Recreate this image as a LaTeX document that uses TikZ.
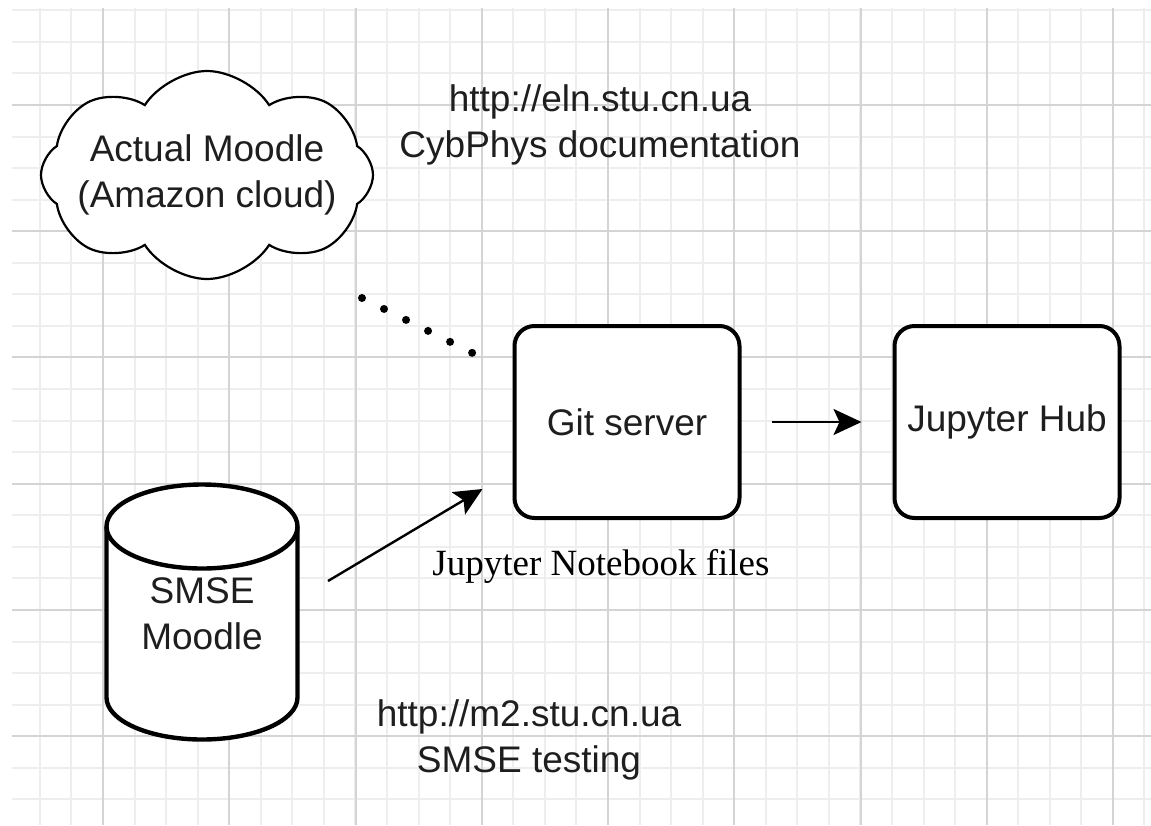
\documentclass[tikz,border=0pt]{standalone}
\usepackage{fontspec}
\setmainfont{Liberation Serif}
\setsansfont{Liberation Sans}
\usetikzlibrary{shapes.symbols,arrows.meta}

\definecolor{gridmajor}{HTML}{D4D4D4}
\definecolor{gridminor}{HTML}{EEEEEE}
\definecolor{ink}{HTML}{1E1E1E}

\tikzset{
  minorline/.style={gridminor, line width=1pt},
  majorline/.style={gridmajor, line width=1pt},
  box/.style={draw=black, fill=white, line width=2pt, rounded corners=10pt,
    minimum width=112.5pt, minimum height=96pt, text=ink},
  cloudnode/.style={cloud, draw=black, fill=white, line width=1.1pt, cloud puffs=8,
    cloud puff arc=115, aspect=1.6, minimum width=166pt, minimum height=104pt,
    inner sep=0pt},
  dbline/.style={draw=black, fill=white, line width=2.2pt, line join=round},
  dbcap/.style={x radius=47.75pt, y radius=21pt},
  note/.style={align=center, text=ink},
  flow/.style={-{Stealth[length=14pt,width=13pt,inset=3pt]}, line width=1.2pt},
  dotline/.style={line width=4pt, line cap=round, dash pattern=on 0pt off 12.3pt}
}

\begin{document}
\begin{tikzpicture}[x=0.5pt,y=-0.5pt,font=\sffamily\fontsize{18.5}{23}\selectfont]
   \useasboundingbox (0,0) rectangle (1151,825);
   \fill[white] (0,0) rectangle (1151,825);
   % grid
   \foreach \k in {-2,...,33} \draw[minorline] ({103+31.56*\k},8) -- ({103+31.56*\k},825);
   \foreach \k in {-3,...,22} \draw[minorline] (12,{105+31.56*\k}) -- (1151,{105+31.56*\k});
   \foreach \k in {0,...,8} \draw[majorline] ({103+126.25*\k},8) -- ({103+126.25*\k},825);
   \foreach \k in {0,...,5} \draw[majorline] (12,{105+126.2*\k}) -- (1151,{105+126.2*\k});

   \node[cloudnode, label={[note]center:{Actual Moodle\\(Amazon cloud)}}] (cloud) at (207,175) {};
   \node[note] (elnurl) at (600,125) {http://eln.stu.cn.ua\\CybPhys documentation};
   \node[box] (git) at (627,422) {Git server};
   \node[box] (hub) at (1007,422) {Jupyter Hub};

   % database cylinder
   \coordinate (smse) at (202,612);
   \path[dbline] ([shift={(-95.5,-85.5)}]smse) -- ([shift={(-95.5,85.5)}]smse)
      arc[start angle=180, end angle=360, dbcap] -- ([shift={(95.5,-85.5)}]smse)
      arc[start angle=0, end angle=180, dbcap] -- cycle;
   \draw[dbline, fill=none] ([shift={(-95.5,-85.5)}]smse) arc[start angle=180, end angle=360, dbcap];
   \node[note] (smsetext) at ([yshift=-1pt]smse) {SMSE\\Moodle};

   \node[font=\rmfamily\fontsize{18.5}{23}\selectfont, anchor=base, text=black] (files) at (601,575) {Jupyter Notebook files};
   \node[note] (m2url) at (529,740) {http://m2.stu.cn.ua\\SMSE testing};

   \coordinate (dotstart) at ([shift={(155,123)}]cloud.center);
   \coordinate (dotend) at ([shift={(-38,30)}]git.north west);
   \draw[dotline] (dotstart) -- (dotend);
   \draw[flow] ([shift={(126,-31)}]smse) -- ([shift={(-30,-31)}]git.south west);
   \draw[flow, shorten <=15pt, shorten >=15.5pt] (git) -- (hub);
\end{tikzpicture}
\end{document}
